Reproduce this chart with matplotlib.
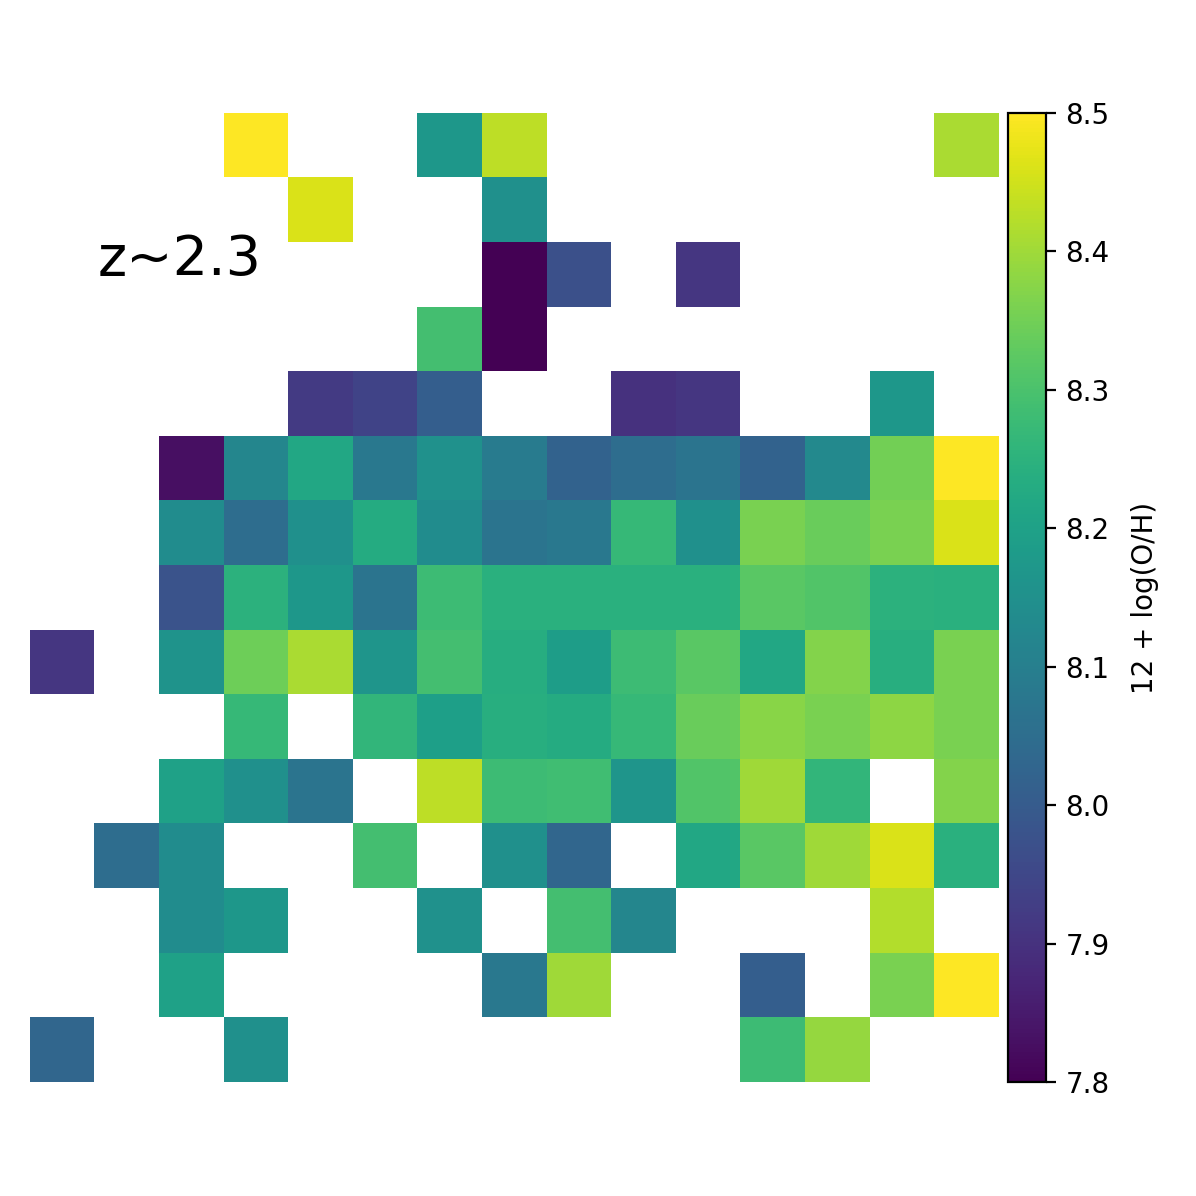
import numpy as np
import matplotlib
matplotlib.use("Agg")
import matplotlib.pyplot as plt

nan = np.nan

# 12 + log(O/H) map, 15 x 15 cells, top row first
row00 = [nan, nan, nan, 8.50, nan, nan, 8.17, 8.43, nan, nan, nan, nan, nan, nan, 8.41]
row01 = [nan, nan, nan, nan, 8.46, nan, nan, 8.15, nan, nan, nan, nan, nan, nan, nan]
row02 = [nan, nan, nan, nan, nan, nan, nan, 7.80, 7.97, nan, 7.91, nan, nan, nan, nan]
row03 = [nan, nan, nan, nan, nan, nan, 8.29, 7.80, nan, nan, nan, nan, nan, nan, nan]
row04 = [nan, nan, nan, nan, 7.92, 7.94, 8.01, nan, nan, 7.90, 7.91, nan, nan, 8.17, nan]
row05 = [nan, nan, 7.83, 8.12, 8.22, 8.08, 8.155, 8.09, 8.02, 8.05, 8.07, 8.02, 8.13, 8.35, 8.50]
row06 = [nan, nan, 8.14, 8.05, 8.15, 8.23, 8.14, 8.07, 8.08, 8.27, 8.15, 8.36, 8.34, 8.36, 8.46]
row07 = [nan, nan, 7.98, 8.25, 8.17, 8.07, 8.28, 8.245, 8.245, 8.245, 8.245, 8.32, 8.31, 8.25, 8.245]
row08 = [7.91, nan, 8.16, 8.345, 8.41, 8.165, 8.29, 8.235, 8.19, 8.28, 8.32, 8.22, 8.37, 8.24, 8.36]
row09 = [nan, nan, nan, 8.27, nan, 8.26, 8.195, 8.24, 8.23, 8.27, 8.34, 8.375, 8.36, 8.38, 8.36]
row10 = [nan, nan, 8.20, 8.15, 8.07, nan, 8.43, 8.28, 8.285, 8.165, 8.31, 8.40, 8.26, nan, 8.37]
row11 = [nan, 8.05, 8.14, nan, nan, 8.29, nan, 8.15, 8.03, nan, 8.22, 8.32, 8.40, 8.46, 8.245]
row12 = [nan, nan, 8.14, 8.17, nan, nan, 8.155, nan, 8.29, 8.12, nan, nan, nan, 8.42, nan]
row13 = [nan, nan, 8.20, nan, nan, nan, nan, 8.08, 8.40, nan, nan, 8.01, nan, 8.36, 8.50]
row14 = [8.03, nan, nan, 8.15, nan, nan, nan, nan, nan, nan, nan, 8.28, 8.39, nan, nan]

oh_map = np.array([row00, row01, row02, row03, row04, row05, row06, row07,
                   row08, row09, row10, row11, row12, row13, row14])

cbar_ticks = [7.8, 7.9, 8.0, 8.1, 8.2, 8.3, 8.4, 8.5]

fig = plt.figure(figsize=(5.98, 5.98), dpi=200)
ax = fig.add_axes([0.0251, 0.0953, 0.8094, 0.8102])
cax = fig.add_axes([0.8428, 0.0953, 0.0318, 0.8102])

im = ax.imshow(oh_map, cmap="viridis", vmin=7.8, vmax=8.5,
               origin="upper", interpolation="nearest", aspect="auto")
ax.set_xticks([])
ax.set_yticks([])
for s in ax.spines.values():
    s.set_visible(False)

ax.text(0.54, 2.0, "z~2.3", fontsize=20, va="baseline", ha="left")

cb = fig.colorbar(im, cax=cax, ticks=cbar_ticks)
cb.set_label("12 + log(O/H)", fontsize=10, labelpad=7.5)
cb.ax.tick_params(labelsize=10)

fig.savefig("out.png", dpi=200)
